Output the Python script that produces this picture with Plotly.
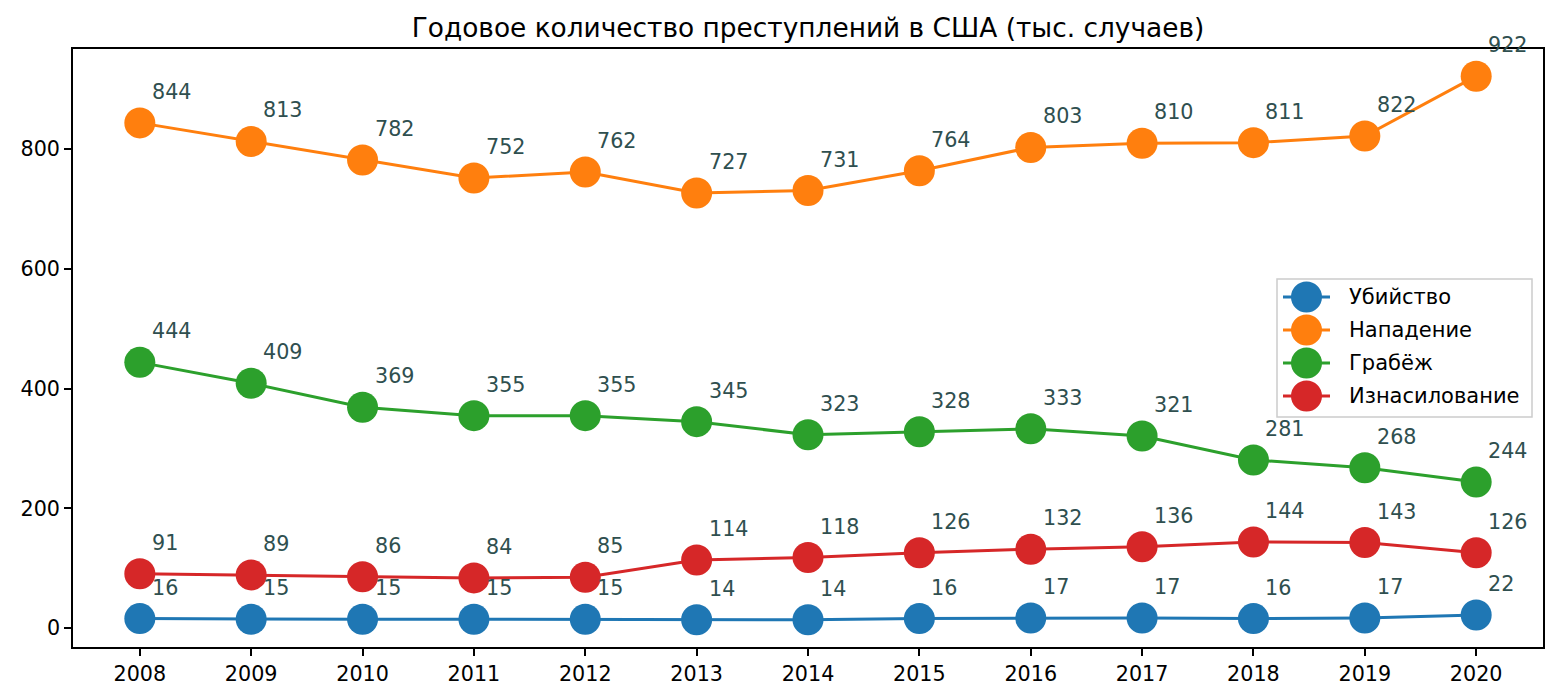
import plotly.graph_objects as go

years = list(range(2008, 2021))
murder = [16, 15, 15, 15, 15, 14, 14, 16, 17, 17, 16, 17, 22]
assault = [844, 813, 782, 752, 762, 727, 731, 764, 803, 810, 811, 822, 922]
robbery = [444, 409, 369, 355, 355, 345, 323, 328, 333, 321, 281, 268, 244]
rape = [91, 89, 86, 84, 85, 114, 118, 126, 132, 136, 144, 143, 126]

names = ["Убийство", "Нападение", "Грабёж", "Изнасилование"]
values = [murder, assault, robbery, rape]
colors = ["#1f77b4", "#ff7f0e", "#2ca02c", "#d62728"]

font = "DejaVu Sans"

# plot area in page pixels (page body adds 8px offset)
PX0, PX1, PY0, PY1 = 73, 1543, 49, 647


def px(x):
    return (x - PX0) / (PX1 - PX0)


def py(y):
    return (PY1 - y) / (PY1 - PY0)


fig = go.Figure()
annotations = []
for name, vals, color in zip(names, values, colors):
    fig.add_trace(go.Scatter(
        x=years, y=vals, name=name, mode="lines+markers",
        line=dict(color=color, width=3),
        marker=dict(size=31, color=color),
        showlegend=False,
    ))
    for x, y in zip(years, vals):
        annotations.append(dict(
            x=x, y=y, text=str(y), showarrow=False,
            xanchor="left", yanchor="middle", xshift=10, yshift=31,
            font=dict(family=font, size=20.7, color="#2F4F4F"),
        ))

# matplotlib-style legend with full-size markers
shapes = [dict(type="rect", xref="paper", yref="paper",
               x0=px(1277), x1=px(1532), y0=py(417), y1=py(279),
               fillcolor="rgba(255,255,255,0.8)",
               line=dict(color="#cccccc", width=1.5))]
rows = [297, 330, 363, 396]
for name, color, yr in zip(names, colors, rows):
    shapes.append(dict(type="line", xref="paper", yref="paper",
                       x0=px(1283), x1=px(1330), y0=py(yr), y1=py(yr),
                       line=dict(color=color, width=3)))
    shapes.append(dict(type="circle", xref="paper", yref="paper",
                       xsizemode="pixel", ysizemode="pixel",
                       xanchor=px(1306.5), yanchor=py(yr),
                       x0=-15.5, x1=15.5, y0=-15.5, y1=15.5,
                       fillcolor=color, line=dict(color=color, width=0)))
    annotations.append(dict(
        xref="paper", yref="paper", x=px(1347), y=py(yr), text=name,
        showarrow=False, xanchor="left", yanchor="middle",
        font=dict(family=font, size=21, color="black"),
    ))

fig.update_layout(
    width=1552, height=692,
    margin=dict(l=65, r=17, t=41, b=53),
    paper_bgcolor="white", plot_bgcolor="white",
    font=dict(family=font, size=20.5, color="black"),
    title=dict(text="Годовое количество преступлений в США (тыс. случаев)",
               xref="paper", x=0.5, xanchor="center",
               yref="container", y=1 - 20 / 692, yanchor="middle",
               font=dict(size=26.4, color="black")),
    annotations=annotations,
    shapes=shapes,
    showlegend=False,
)

fig.update_xaxes(
    range=[2007.4, 2020.6], tickmode="array", tickvals=years,
    ticks="outside", ticklen=7, tickwidth=1.6, tickcolor="black",
    showline=True, linecolor="black", linewidth=1.6, mirror=True,
    showgrid=False, zeroline=False, tickfont=dict(size=20.7),
)
fig.update_yaxes(
    range=[-31.4, 967.4], tickvals=[0, 200, 400, 600, 800],
    ticks="outside", ticklen=7, tickwidth=1.6, tickcolor="black",
    showline=True, linecolor="black", linewidth=1.6, mirror=True,
    showgrid=False, zeroline=False, tickfont=dict(size=20.7),
)

fig.write_html("out.html")
